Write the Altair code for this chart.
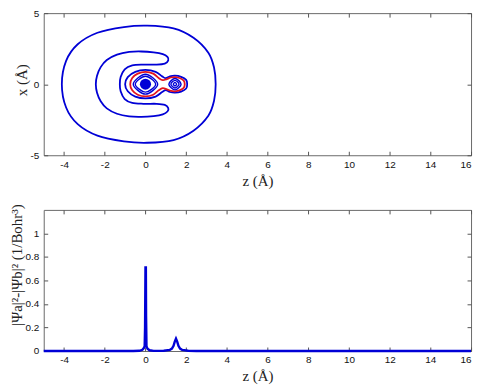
import altair as alt
import pandas as pd

# ---------------- top panel: contour key points (z, x) in Å ----------------
OUTER_Z = [-4.11, -3.90, -3.33, -2.36, -1.06, 0.08, 1.38, 2.36, 3.09, 3.37, 3.45,
           3.37, 3.09, 2.36, 1.38, 0.08, -1.06, -2.36, -3.33, -3.90]
OUTER_X = [0.0, 1.64, 2.81, 3.62, 4.02, 4.12, 3.93, 3.27, 2.22, 1.17, 0.0,
           -1.17, -2.22, -3.27, -3.93, -4.12, -4.02, -3.62, -2.81, -1.64]

C_Z = [-2.44, -2.38, -2.20, -1.90, -1.40, -0.80, -0.20, 0.40, 0.85, 1.08, 1.12, 0.95,
       0.55, -0.10, -0.65, -1.02, -1.22, -1.26, -1.22, -1.02, -0.65, -0.10, 0.55,
       0.95, 1.12, 1.08, 0.85, 0.40, -0.20, -0.80, -1.40, -1.90, -2.20, -2.38]
C_X = [0.0, 0.60, 1.20, 1.70, 2.08, 2.27, 2.30, 2.24, 2.12, 1.92, 1.68, 1.45,
       1.38, 1.38, 1.32, 1.05, 0.5, 0.0, -0.5, -1.05, -1.32, -1.38, -1.38,
       -1.45, -1.68, -1.92, -2.12, -2.24, -2.30, -2.27, -2.08, -1.70, -1.20, -0.60]

BLUE_PEANUT_Z = [-1.0, -0.87, -0.5, 0.0, 0.5, 0.82, 1.0, 1.2, 1.45, 1.75, 2.0, 2.05,
                 2.0, 1.75, 1.45, 1.2, 1.0, 0.82, 0.5, 0.0, -0.5, -0.87]
BLUE_PEANUT_X = [0.0, 0.5, 0.87, 1.0, 0.87, 0.55, 0.42, 0.55, 0.6, 0.52, 0.3, 0.0,
                 -0.3, -0.52, -0.6, -0.55, -0.42, -0.55, -0.87, -1.0, -0.87, -0.5]

RED_PEANUT_Z = [-0.75, -0.65, -0.38, 0.0, 0.38, 0.65, 0.85, 1.05, 1.25, 1.45, 1.7, 1.88, 1.93,
                1.88, 1.7, 1.45, 1.25, 1.05, 0.85, 0.65, 0.38, 0.0, -0.38, -0.65]
RED_PEANUT_X = [0.0, 0.43, 0.74, 0.86, 0.74, 0.43, 0.28, 0.36, 0.47, 0.5, 0.42, 0.25, 0.0,
                -0.25, -0.42, -0.5, -0.47, -0.36, -0.28, -0.43, -0.74, -0.86, -0.74, -0.43]

# small closed rings: centre and half-extents
RING_CZ = [0.0, 0.0, 1.45, 1.45, 1.45]
RING_CX = [0.0, 0.0, 0.0, 0.0, 0.0]
RING_RZ = [0.6, 0.5, 0.3, 0.2, 0.08]
RING_RX = [0.7, 0.56, 0.4, 0.27, 0.12]

CORE_Z = [0.0]
CORE_X = [0.0]

# ---------------- bottom panel: density difference profile ----------------
PROFILE_Z = [-5.0, -0.6, -0.3, -0.15, -0.08, -0.04, -0.02, 0.0, 0.02, 0.03, 0.05, 0.1, 0.2,
             0.4, 0.9, 1.2, 1.3, 1.38, 1.44, 1.5, 1.56, 1.62, 1.7, 1.8, 2.1, 2.5, 16.0]
PROFILE_V = [0.0, 0.0, 0.002, 0.01, 0.025, 0.04, 0.2, 0.71, 0.71, 0.3, 0.04, 0.02, 0.006,
             0.001, 0.002, 0.01, 0.02, 0.045, 0.08, 0.105, 0.08, 0.045, 0.02, 0.01, 0.002, 0.0, 0.0]

Z_TICKS = [-4, -2, 0, 2, 4, 6, 8, 10, 12, 14, 16]
X_TICKS = [-5, 0, 5]
V_TICKS = [0, 0.2, 0.4, 0.6, 0.8, 1]
Z_DOMAIN = [-5, 16]
X_DOMAIN = [-5, 5]
V_DOMAIN = [0, 1.2]

BLUE = "#0000d6"
RED = "#e3141c"

# ---------------- build tables ----------------
rows = []


def add(cid, zs, xs, color):
    for i, (zz, xx) in enumerate(zip(zs, xs)):
        rows.append(dict(cid=cid, ord=i, z=zz, x=xx, color=color))


add("outer", OUTER_Z, OUTER_X, BLUE)
add("c", C_Z, C_X, BLUE)
add("bpeanut", BLUE_PEANUT_Z, BLUE_PEANUT_X, BLUE)
add("rpeanut", RED_PEANUT_Z, RED_PEANUT_X, RED)
big = pd.DataFrame(rows)

rows = []
for k, (cz, cx, rz, rx) in enumerate(zip(RING_CZ, RING_CX, RING_RZ, RING_RX)):
    add(f"ring{k}", [cz + rz, cz, cz - rz, cz], [cx, cx + rx, cx, cx - rx], BLUE)
rings = pd.DataFrame(rows)

core = pd.DataFrame({"z": CORE_Z, "x": CORE_X})
prof = pd.DataFrame({"z": PROFILE_Z, "v": PROFILE_V})

zscale = alt.Scale(domain=Z_DOMAIN, nice=False, zero=False)
xscale = alt.Scale(domain=X_DOMAIN, nice=False, zero=False)
vscale = alt.Scale(domain=V_DOMAIN, nice=False, zero=False)

LBL = "'' + datum.value"


def bottom_axis(title_y):
    return alt.Axis(values=Z_TICKS, orient="bottom", offset=-4, tickSize=4, labelPadding=4,
                    labelExpr=LBL, title="z (Å)", titleX=215, titleY=title_y,
                    titleAlign="center", titleBaseline="middle")


def left_axis(values, title, tx, ty):
    return alt.Axis(values=values, orient="left", offset=-4, tickSize=4, labelPadding=5,
                    labelExpr=LBL, title=title, titleX=tx, titleY=ty, titleAngle=270,
                    titleAlign="center", titleBaseline="middle")


top_ghost_axis = alt.Axis(values=Z_TICKS, orient="top", offset=-4, tickSize=4, labels=False,
                          title=None)


def right_ghost_axis(values):
    return alt.Axis(values=values, orient="right", offset=-4, tickSize=4, labels=False,
                    title=None)


# ---------------- top panel ----------------
contours = alt.Chart(big).mark_line(interpolate="cardinal-closed", strokeWidth=1.8).encode(
    x=alt.X("z:Q", scale=zscale, axis=bottom_axis(29)),
    y=alt.Y("x:Q", scale=xscale, axis=left_axis(X_TICKS, "x (Å)", -26, 67)),
    detail="cid:N",
    order="ord:Q",
    color=alt.Color("color:N", scale=None),
)
ring_lines = alt.Chart(rings).mark_line(interpolate="cardinal-closed", strokeWidth=1.4).encode(
    x=alt.X("z:Q", scale=zscale, axis=None),
    y=alt.Y("x:Q", scale=xscale, axis=None),
    detail="cid:N",
    order="ord:Q",
    color=alt.Color("color:N", scale=None),
)
core_dot = alt.Chart(core).mark_circle(size=125, color=BLUE, opacity=1).encode(
    x=alt.X("z:Q", scale=zscale, axis=None),
    y=alt.Y("x:Q", scale=xscale, axis=None),
)
top_ghost = alt.Chart(core).mark_point(opacity=0).encode(
    x=alt.X("z:Q", scale=zscale, axis=top_ghost_axis),
    y=alt.Y("x:Q", scale=xscale, axis=right_ghost_axis(X_TICKS)),
)
top = alt.layer(contours, ring_lines, core_dot, top_ghost).resolve_axis(
    x="independent", y="independent").properties(width=430, height=143)

# ---------------- bottom panel ----------------
line = alt.Chart(prof).mark_line(color=BLUE, strokeWidth=2.4).encode(
    x=alt.X("z:Q", scale=zscale, axis=bottom_axis(29)),
    y=alt.Y("v:Q", scale=vscale,
            axis=left_axis(V_TICKS, "|Ψa|²-|Ψb|² (1/Bohr³)", -31, 55)),
)
bot_ghost = alt.Chart(prof).mark_point(opacity=0).encode(
    x=alt.X("z:Q", scale=zscale, axis=top_ghost_axis),
    y=alt.Y("v:Q", scale=vscale, axis=right_ghost_axis(V_TICKS)),
)
bottom = alt.layer(line, bot_ghost).resolve_axis(
    x="independent", y="independent").properties(width=430, height=142)

chart = alt.vconcat(top, bottom, spacing=55, bounds="flush").properties(
    padding={"left": 9, "top": 6, "right": 0, "bottom": 0}
).configure_view(stroke="#6a6a6a", strokeWidth=1).configure_axis(
    grid=False, domain=False, labelFont="Liberation Sans", labelFontSize=10,
    labelColor="#111111", tickColor="#555555", tickWidth=1,
    titleFont="Liberation Serif", titleFontSize=15, titleFontWeight="normal",
    titleColor="#222222",
)

chart.save("out.html", embed_options={"renderer": "svg", "actions": False})
